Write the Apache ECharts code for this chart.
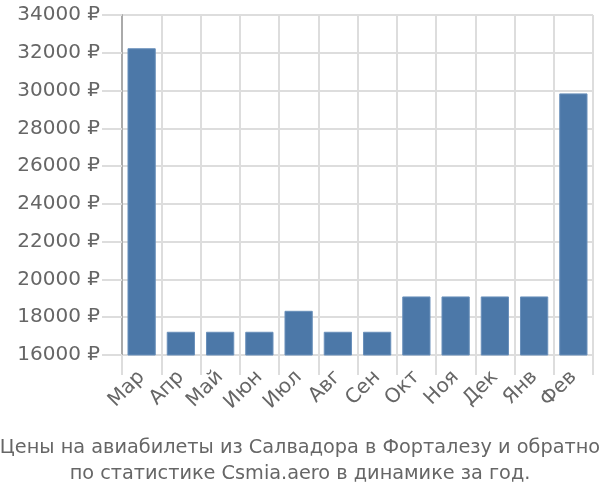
<!DOCTYPE html>
<html><head><meta charset="utf-8">
<script src="https://cdn.jsdelivr.net/npm/echarts@6/dist/echarts.min.js"></script>
<style>html,body{margin:0;padding:0;background:#fff}#c{width:600px;height:500px}</style>
</head><body><div id="c"></div>
<script>
const categories = ['Мар','Апр','Май','Июн','Июл','Авг','Сен','Окт','Ноя','Дек','Янв','Фев'];
const prices = [32240, 17230, 17230, 17230, 18340, 17230, 17230, 19100, 19100, 19100, 19100, 29850];
const titleLines = ['Цены на авиабилеты из Салвадора в Форталезу и обратно','по статистике Csmia.aero в динамике за год.'];
const font = '"DejaVu Sans", sans-serif';
const chart = echarts.init(document.getElementById('c'));
chart.setOption({
  animation:false,
  title:{text:titleLines.join('\n'),left:'center',top:430,
    textStyle:{color:'#666',fontSize:19.3,fontWeight:'normal',fontFamily:font,lineHeight:26}},
  grid:{left:122,right:7,top:15,bottom:145},
  xAxis:{type:'category',data:categories,
    axisLine:{show:false},
    axisTick:{show:true,length:20,lineStyle:{color:'#ddd',width:2},alignWithLabel:false},
    splitLine:{show:true,lineStyle:{color:'#ddd',width:2}},
    axisLabel:{rotate:45,color:'#666',fontSize:20,fontFamily:font,margin:19,interval:0}},
  yAxis:{type:'value',min:16000,max:34000,interval:2000,
    axisLine:{show:true,lineStyle:{color:'#aaa',width:2}},
    axisTick:{show:true,length:20,lineStyle:{color:'#ddd',width:2}},
    splitLine:{show:true,lineStyle:{color:'#ddd',width:2}},
    axisLabel:{color:'#666',fontSize:20,fontFamily:font,margin:22,formatter:v=>v+' ₽'}},
  series:[{type:'bar',data:prices,barCategoryGap:'28%',
    itemStyle:{color:'#4c78a8',borderColor:'#6a90bb',borderWidth:1}}]
});
</script></body></html>
